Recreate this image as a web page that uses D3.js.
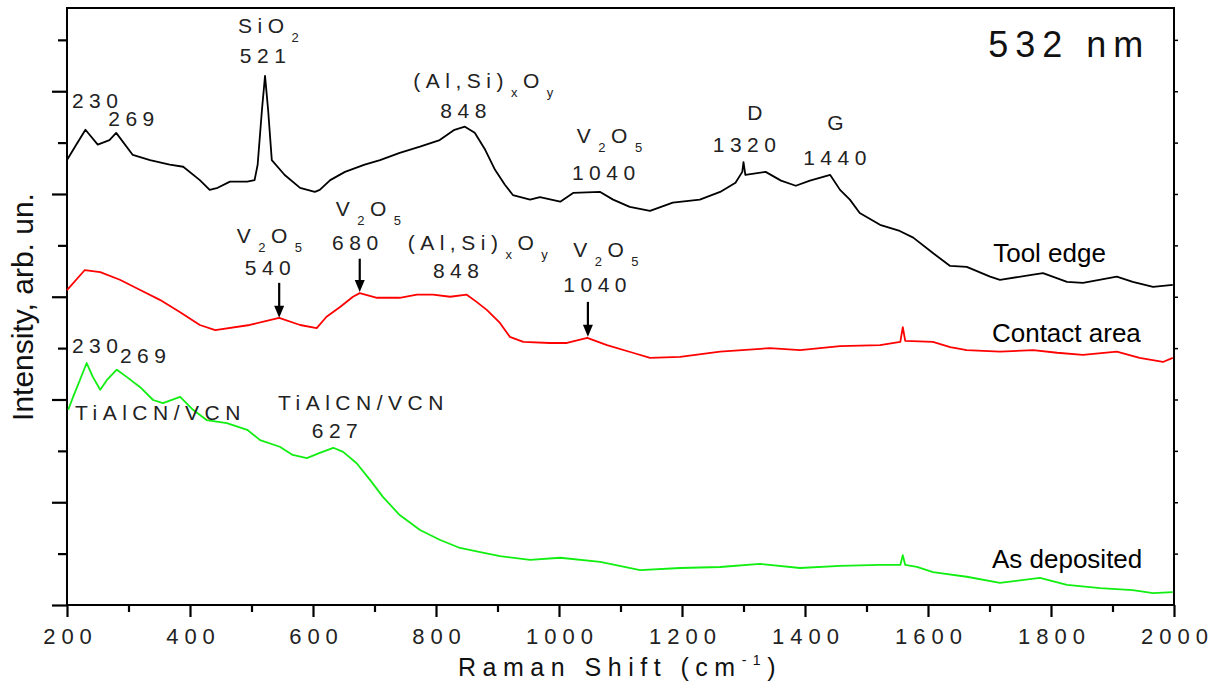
<!DOCTYPE html>
<meta charset="utf-8">
<style>
  body { margin: 0; background: white; }
  svg { font-family: Arial, "Liberation Sans", sans-serif; }
  .tick text { fill: #222; }
  .ann { fill: #222; }
</style>
<body>
</body>
<script src="https://cdn.jsdelivr.net/npm/d3@7"></script>
<script>
  // Raman shift (cm-1) and intensity (arb. units, 100 per y tick)
  const toolX = [200, 215, 230, 250, 269, 280, 307, 335, 367, 389, 416, 432, 445, 465, 493, 505, 510, 517, 522, 527,
    533, 554, 579, 603, 611, 628, 652, 684, 709, 741, 774, 806, 830, 847, 863, 880, 896, 912, 925, 953,
    969, 1002, 1023, 1067, 1088, 1115, 1148, 1185, 1229, 1262, 1287, 1298, 1300, 1303, 1336, 1361, 1385, 1408, 1441, 1457,
    1473, 1489, 1522, 1554, 1576, 1608, 1636, 1663, 1701, 1717, 1771, 1787, 1826, 1852, 1907, 1933, 1966, 1998];
  const toolY = [866, 896, 925, 896, 905, 919, 876, 866, 857, 853, 827, 808, 812, 824, 824, 827, 857, 964, 1030, 964,
    866, 837, 812, 804, 808, 827, 843, 857, 866, 880, 892, 905, 925, 931, 919, 886, 847, 818, 798, 789,
    794, 785, 802, 804, 789, 775, 767, 783, 789, 804, 822, 843, 862, 837, 843, 826, 816, 826, 837, 808,
    789, 763, 740, 728, 715, 685, 660, 658, 639, 633, 643, 646, 629, 627, 639, 629, 619, 623];

  const contactX = [200, 229, 254, 286, 319, 351, 384, 416, 441, 497, 545, 579, 606, 622, 644, 665, 676, 704, 741, 769,
    795, 823, 850, 866, 883, 904, 920, 942, 985, 1013, 1046, 1078, 1120, 1148, 1197, 1262, 1343, 1392, 1457, 1522,
    1555, 1559, 1563, 1608, 1636, 1663, 1717, 1771, 1810, 1852, 1907, 1944, 1982, 1998];
  const contactY = [613, 652, 648, 633, 613, 594, 570, 545, 535, 545, 559, 545, 539, 561, 580, 600, 607, 598, 598, 604,
    604, 600, 604, 590, 574, 549, 522, 512, 510, 510, 520, 506, 491, 481, 483, 493, 500, 496, 504, 506,
    512, 541, 514, 512, 502, 496, 493, 496, 491, 487, 493, 481, 473, 481];

  const depX = [202, 210, 221, 232, 242, 254, 265, 281, 297, 319, 340, 356, 384, 405, 427, 460, 493, 514, 546, 567,
    590, 611, 633, 649, 671, 693, 714, 741, 774, 806, 839, 872, 904, 953, 1002, 1067, 1132, 1197, 1262, 1327,
    1392, 1457, 1522, 1555, 1559, 1563, 1582, 1608, 1663, 1717, 1782, 1826, 1880, 1933, 1966, 1998];
  const depY = [380, 405, 438, 471, 444, 419, 438, 458, 444, 424, 399, 393, 405, 380, 360, 354, 341, 321, 308, 292,
    286, 296, 306, 298, 276, 243, 210, 175, 146, 127, 111, 103, 95, 88, 92, 84, 68, 72, 74, 80,
    72, 76, 78, 78, 97, 78, 74, 64, 55, 43, 53, 39, 33, 29, 23, 25];

  const seriesNames = ['Tool edge', 'Contact area', 'As deposited'];
  const seriesColors = ['#000000', '#ff0000', '#11ee11'];
  const xTicks = [200, 400, 600, 800, 1000, 1200, 1400, 1600, 1800, 2000];

  // annotations: segments [text, kind], position in data coordinates
  const notes = [
    {x: 208, y: 968, parts: [['230']]},
    {x: 267, y: 933, parts: [['269']]},
    {x: 478, y: 1114, parts: [['SiO'], ['2', 'sub']]},
    {x: 481, y: 1055, parts: [['521']]},
    {x: 763, y: 1007, parts: [['(Al,Si)'], ['x', 'sub'], ['O'], ['y', 'sub']]},
    {x: 807, y: 948, parts: [['848']]},
    {x: 1029, y: 900, parts: [['V'], ['2', 'sub'], ['O'], ['5', 'sub']]},
    {x: 1021, y: 827, parts: [['1040']]},
    {x: 1306, y: 944, parts: [['D']]},
    {x: 1250, y: 882, parts: [['1320']]},
    {x: 1436, y: 925, parts: [['G']]},
    {x: 1397, y: 857, parts: [['1440']]},
    {x: 476, y: 705, parts: [['V'], ['2', 'sub'], ['O'], ['5', 'sub']]},
    {x: 489, y: 643, parts: [['540']]},
    {x: 637, y: 757, parts: [['V'], ['2', 'sub'], ['O'], ['5', 'sub']]},
    {x: 631, y: 691, parts: [['680']]},
    {x: 754, y: 691, parts: [['(Al,Si)'], ['x', 'sub'], ['O'], ['y', 'sub']]},
    {x: 795, y: 637, parts: [['848']]},
    {x: 1023, y: 678, parts: [['V'], ['2', 'sub'], ['O'], ['5', 'sub']]},
    {x: 1007, y: 609, parts: [['1040']]},
    {x: 208, y: 491, parts: [['230']]},
    {x: 286, y: 471, parts: [['269']]},
    {x: 213, y: 360, parts: [['TiAlCN/VCN']]},
    {x: 543, y: 380, parts: [['TiAlCN/VCN']]},
    {x: 598, y: 325, parts: [['627']]}
  ];
  const arrows = [
    {x: 545, y0: 627, y1: 559},
    {x: 676, y0: 674, y1: 609},
    {x: 1047, y0: 590, y1: 522}
  ];
  const names = [
    {x: 1706, y: 668, text: 'Tool edge'},
    {x: 1704, y: 512, text: 'Contact area'},
    {x: 1704, y: 72, text: 'As deposited'}
  ];

  const W = 1221, H = 692;
  const svg = d3.select('body').append('svg').attr('width', W).attr('height', H);

  const x = d3.scaleLinear().domain([200, 2000]).range([67, 1174]);
  const y = d3.scaleLinear().domain([0, 1162]).range([605, 8]);

  // frame
  svg.append('rect')
    .attr('x', x(200)).attr('y', y(1162))
    .attr('width', x(2000) - x(200)).attr('height', y(0) - y(1162))
    .attr('fill', 'none').attr('stroke', '#000').attr('stroke-width', 2);

  // spectra
  const line = d3.line().x(d => x(d[0])).y(d => y(d[1]));
  const spectra = [
    d3.zip(toolX, toolY),
    d3.zip(contactX, contactY),
    d3.zip(depX, depY)
  ];
  svg.append('g').selectAll('path')
    .data(spectra)
    .join('path')
    .attr('d', line)
    .attr('fill', 'none')
    .attr('stroke', (d, i) => seriesColors[i])
    .attr('stroke-width', 1.8)
    .attr('stroke-linejoin', 'round');

  // bottom axis: minor then major ticks
  const xMin = svg.append('g').attr('transform', `translate(0, ${y(0)})`)
    .call(d3.axisBottom(x).tickValues(d3.range(300, 2000, 200)).tickSize(7).tickFormat(''));
  xMin.select('.domain').remove();
  const xMaj = svg.append('g').attr('transform', `translate(0, ${y(0)})`)
    .call(d3.axisBottom(x).tickValues(xTicks).tickSize(12).tickPadding(11).tickFormat(d3.format('d')));
  xMaj.select('.domain').remove();
  xMaj.selectAll('text').attr('font-size', 22).attr('letter-spacing', 6).attr('dx', 3);

  // left axis ticks, long and short alternating
  const ylMaj = svg.append('g').attr('transform', `translate(${x(200)}, 0)`)
    .call(d3.axisLeft(y).tickValues(d3.range(0, 1162, 200)).tickSize(15).tickFormat(''));
  ylMaj.select('.domain').remove();
  const ylMin = svg.append('g').attr('transform', `translate(${x(200)}, 0)`)
    .call(d3.axisLeft(y).tickValues(d3.range(100, 1162, 200)).tickSize(9).tickFormat(''));
  ylMin.select('.domain').remove();

  // right axis ticks
  const yr = svg.append('g').attr('transform', `translate(${x(2000)}, 0)`)
    .call(d3.axisRight(y).tickValues(d3.range(100, 1162, 100)).tickSize(4).tickFormat(''));
  yr.select('.domain').remove();

  svg.selectAll('.tick line').attr('stroke-width', 2.2);
  yr.selectAll('.tick line').attr('stroke-width', 1.5);

  // annotations
  const ann = svg.append('g').attr('class', 'ann').attr('font-size', 21).attr('letter-spacing', 5.5);
  notes.forEach(n => {
    const t = ann.append('text').attr('x', x(n.x)).attr('y', y(n.y));
    let shifted = 0;
    n.parts.forEach(p => {
      const sub = p[1] === 'sub';
      const dy = (sub ? 9 : 0) - shifted;
      shifted = sub ? 9 : 0;
      t.append('tspan').attr('dy', dy).attr('font-size', sub ? 13 : null)
        .attr('dx', sub ? 2 : 0).text(p[0]);
    });
  });

  // arrows
  const ag = svg.append('g');
  arrows.forEach(a => {
    ag.append('line')
      .attr('x1', x(a.x)).attr('x2', x(a.x))
      .attr('y1', y(a.y0)).attr('y2', y(a.y1) - 9)
      .attr('stroke', '#000').attr('stroke-width', 2.2);
    ag.append('path')
      .attr('d', `M${x(a.x) - 5},${y(a.y1) - 12} L${x(a.x) + 5},${y(a.y1) - 12} L${x(a.x)},${y(a.y1)} Z`)
      .attr('fill', '#000');
  });

  // series names
  svg.append('g').selectAll('text')
    .data(names)
    .join('text')
    .attr('x', d => x(d.x)).attr('y', d => y(d.y))
    .attr('font-size', 26).attr('fill', '#000')
    .text(d => d.text);

  // laser wavelength
  svg.append('text')
    .attr('x', x(1698)).attr('y', y(1067))
    .attr('font-size', 36).attr('letter-spacing', 7).attr('fill', '#111')
    .text('532 nm');

  // axis titles
  const xt = svg.append('text')
    .attr('x', 620).attr('y', 676)
    .attr('text-anchor', 'middle')
    .attr('font-size', 25).attr('letter-spacing', 6.5).attr('fill', '#111');
  xt.append('tspan').text('Raman Shift (cm');
  xt.append('tspan').attr('dy', -11).attr('font-size', 14).text('-1');
  xt.append('tspan').attr('dy', 11).text(')');

  svg.append('text')
    .attr('transform', `translate(33, ${307}) rotate(-90)`)
    .attr('text-anchor', 'middle')
    .attr('font-size', 30).attr('fill', '#111')
    .text('Intensity, arb. un.');
</script>
